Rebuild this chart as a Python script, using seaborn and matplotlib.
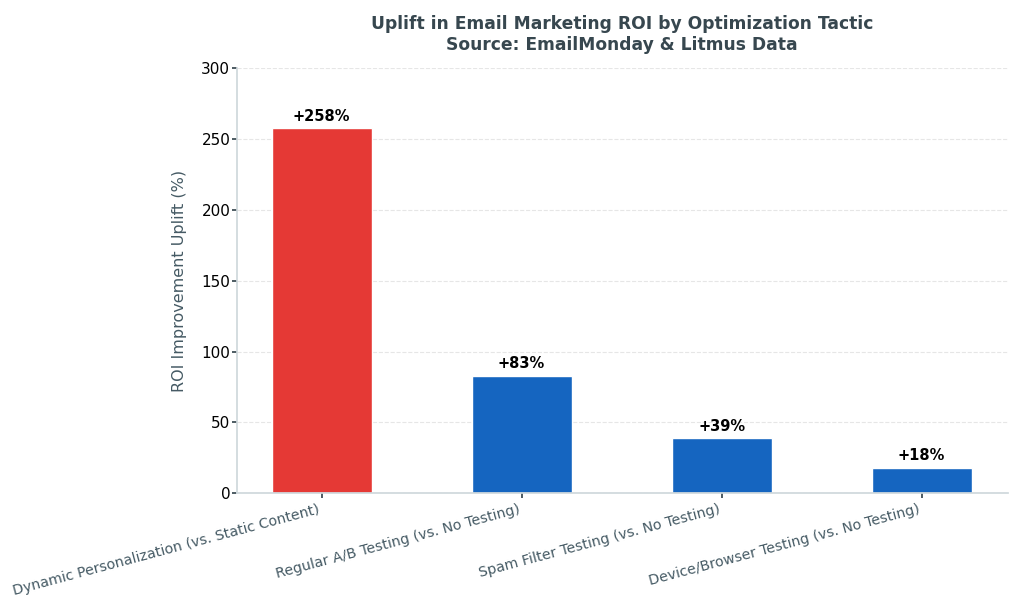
import matplotlib
matplotlib.use("Agg")
import pandas as pd
import seaborn as sns
import matplotlib.pyplot as plt

# data
tactics = [
    "Dynamic Personalization (vs. Static Content)",
    "Regular A/B Testing (vs. No Testing)",
    "Spam Filter Testing (vs. No Testing)",
    "Device/Browser Testing (vs. No Testing)",
]
uplift = [258, 83, 39, 18]
bar_colors = ["#E53935", "#1565C0", "#1565C0", "#1565C0"]

df = pd.DataFrame({"tactic": tactics, "uplift": uplift})

sns.set_theme(style="white")
plt.rcParams["font.family"] = ["DejaVu Sans"]

fig = plt.figure(figsize=(10.24, 6.15), dpi=100)
ax = fig.add_axes([0.231, 0.198, 0.753, 0.691])

sns.barplot(data=df, x="tactic", y="uplift", hue="tactic", palette=bar_colors,
            width=0.5, legend=False, ax=ax, saturation=1)

for i, v in enumerate(uplift):
    ax.text(i, v + 3, f"+{v}%", ha="center", va="bottom",
            fontsize=10.5, fontweight="bold", color="black")

ax.set_ylim(0, 300)
ax.set_xlim(-0.425, 3.43)
ax.set_yticks(range(0, 301, 50))
ax.yaxis.grid(True, linestyle="--", color="#E6E6E6", linewidth=0.8)
ax.set_axisbelow(True)

ax.set_title("Uplift in Email Marketing ROI by Optimization Tactic\nSource: EmailMonday & Litmus Data",
             fontsize=12.3, fontweight="bold", color="#37474F", pad=13)
ax.set_xlabel("")
ax.set_ylabel("ROI Improvement Uplift (%)", fontsize=11.5, color="#455A64", labelpad=10)

ax.tick_params(axis="y", labelsize=11, length=3.5, pad=1, color="#37474F", left=True, labelcolor="black")
ax.tick_params(axis="x", labelsize=10.2, length=3.5, pad=3, color="#37474F", bottom=True, labelcolor="#455A64")
plt.setp(ax.get_xticklabels(), rotation=15, ha="right")

sns.despine(ax=ax)
for s in ["left", "bottom"]:
    ax.spines[s].set_color("#CFD8DC")

fig.savefig("out.png", dpi=100)
